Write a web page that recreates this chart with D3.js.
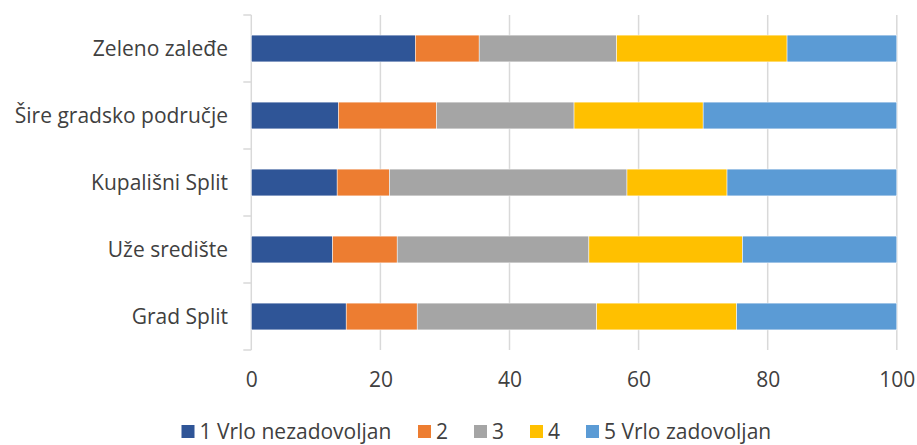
<!DOCTYPE html>
<html lang="en">
  <head>
    <meta charset="utf-8" />
    <title>Zadovoljstvo po područjima</title>
    <script src="https://cdnjs.cloudflare.com/ajax/libs/d3/7.8.5/d3.min.js"></script>
    <style>
      body { margin: 0; background: #fff; }
      text { font-family: "Open Sans", Lato, sans-serif; fill: #404040; }
    </style>
  </head>
  <body>
    <div id="chart"></div>
    <script>
    // categories, top to bottom
    var categories = ["Zeleno zaleđe", "Šire gradsko područje", "Kupališni Split", "Uže središte", "Grad Split"];
    var seriesNames = ["1 Vrlo nezadovoljan", "2", "3", "4", "5 Vrlo zadovoljan"];
    var colors = ["#2f5597", "#ed7d31", "#a5a5a5", "#ffc000", "#5b9bd5"];

    // share (%) per rating, same order as categories
    var r1 = [25.4, 13.5, 13.3, 12.6, 14.7];
    var r2 = [9.9, 15.2, 8.1, 10.0, 11.0];
    var r3 = [21.3, 21.3, 36.8, 29.7, 27.8];
    var r4 = [26.4, 20.0, 15.5, 23.8, 21.7];
    var r5 = [17.0, 30.0, 26.3, 23.9, 24.8];
    var xTicks = [0, 20, 40, 60, 80, 100];

    var width = 917, height = 445;
    var margin = {top: 15, right: 20, bottom: 95, left: 251};
    var fontSize = "21px";

    var svg = d3.select("#chart")
      .append("svg")
        .attr("width", width)
        .attr("height", height);

    // build rows for d3.stack
    var cols = [r1, r2, r3, r4, r5];
    var rows = categories.map(function(c, i) {
      var o = {cat: c};
      seriesNames.forEach(function(s, j) { o[s] = cols[j][i]; });
      return o;
    });
    var stacked = d3.stack().keys(seriesNames)(rows);

    var x = d3.scaleLinear()
        .domain([0, 100])
        .range([margin.left + 0.3, 896.8]);

    var y = d3.scaleBand()
        .domain(categories)
        .range([margin.top, height - margin.bottom])
        .paddingInner(0.6)
        .paddingOuter(0.3);

    // vertical gridlines
    svg.append("g")
      .selectAll("line")
      .data(xTicks.slice(1))
      .enter()
      .append("line")
        .attr("x1", function(d){ return x(d) })
        .attr("x2", function(d){ return x(d) })
        .attr("y1", margin.top)
        .attr("y2", height - margin.bottom)
        .attr("stroke", "#d9d9d9")
        .attr("stroke-width", 1.5);

    // left axis line, ticks at category boundaries
    var ax = svg.append("g")
      .attr("transform", "translate(" + x(0) + ",0)");
    ax.append("line")
      .attr("y1", margin.top).attr("y2", height - margin.bottom)
      .attr("stroke", "#d9d9d9").attr("stroke-width", 1.5);
    ax.selectAll(".bound")
      .data(d3.range(categories.length + 1))
      .enter()
      .append("line")
        .attr("x1", -8).attr("x2", 0)
        .attr("y1", function(i){ return margin.top + i * y.step() })
        .attr("y2", function(i){ return margin.top + i * y.step() })
        .attr("stroke", "#d9d9d9").attr("stroke-width", 1.5);

    // category labels
    svg.append("g")
      .selectAll("text")
      .data(categories)
      .enter()
      .append("text")
        .attr("x", 228)
        .attr("y", function(d){ return y(d) + y.bandwidth() / 2 })
        .attr("dy", "0.35em")
        .attr("text-anchor", "end")
        .style("font-size", fontSize)
        .text(function(d){ return d });

    // bars
    svg.append("g")
      .selectAll("g")
      .data(stacked)
      .enter()
      .append("g")
        .attr("fill", function(d, i){ return colors[i] })
      .selectAll("rect")
      .data(function(d){ return d })
      .enter()
      .append("rect")
        .attr("x", function(d){ return x(d[0]) })
        .attr("y", function(d){ return y(d.data.cat) })
        .attr("width", function(d){ return x(d[1]) - x(d[0]) })
        .attr("height", y.bandwidth())
        .attr("stroke", "#fff")
        .attr("stroke-width", 0.5);

    // x tick labels
    var xa = svg.append("g")
      .attr("transform", "translate(0," + (height - margin.bottom) + ")")
      .call(d3.axisBottom(x).tickValues(xTicks).tickSize(0).tickPadding(22));
    xa.select(".domain").remove();
    xa.selectAll("text")
      .style("font-family", "'Open Sans', sans-serif")
      .style("font-size", fontSize)
      .attr("fill", "#404040");

    // legend (kept a little above the bottom edge so descenders fit)
    var legendX = [181.5, 418, 474, 530, 586];
    var lg = svg.append("g")
      .selectAll("g")
      .data(seriesNames)
      .enter()
      .append("g")
        .attr("transform", function(d, i){ return "translate(" + legendX[i] + ",425)" });
    lg.append("rect")
      .attr("width", 13).attr("height", 13)
      .attr("fill", function(d, i){ return colors[i] });
    lg.append("text")
      .attr("x", 18)
      .attr("y", 6.5)
      .attr("dy", "0.35em")
      .style("font-size", fontSize)
      .text(function(d){ return d });
    </script>
  </body>
</html>
